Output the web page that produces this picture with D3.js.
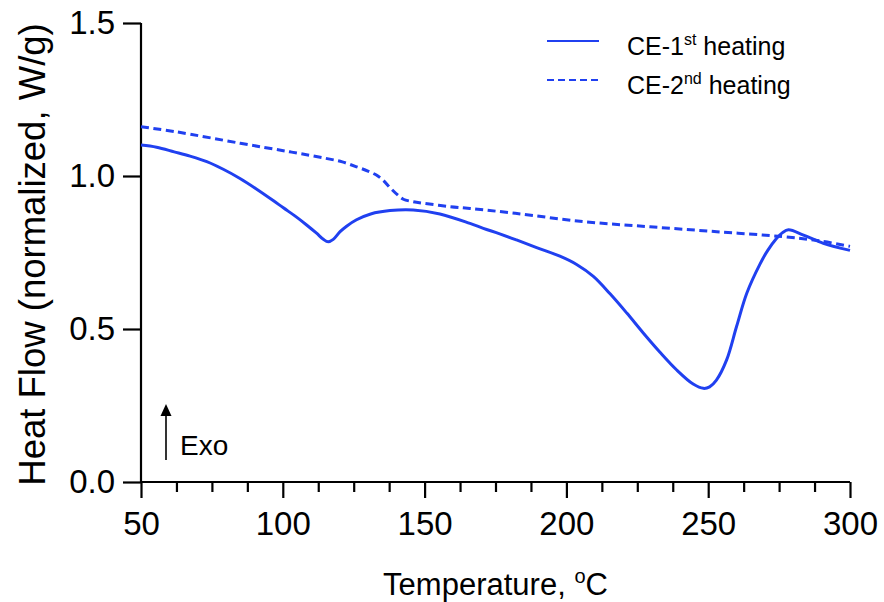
<!DOCTYPE html>
<html>
<head>
<meta charset="utf-8">
<script src="https://cdn.jsdelivr.net/npm/d3@7/dist/d3.min.js"></script>
<style>
  html, body { margin: 0; padding: 0; background: #fff; }
  svg { display: block; font-family: "Liberation Sans", Arial, Helvetica, sans-serif; }
</style>
</head>
<body>
<svg id="chart" width="884" height="602"></svg>
<script>
// ---- data ----
const temp1 = [50, 55.5, 61.7, 67.3, 73.2, 79, 84.9, 90.8, 96.6, 100.2, 104.5, 108.4, 111.9, 114.3, 116, 117.8, 120.2, 122.5, 126, 131, 137.8, 146, 155.4, 166, 170.7, 176.5, 182.4, 189.5, 197.7, 203.6, 209.5, 215.4, 221.3, 227.1, 233, 238.9, 244.7, 248.3, 250.5, 252.9, 256.5, 260, 263.6, 268.3, 271, 274, 276.2, 278.3, 283.6, 290.6, 300];
const heat1 = [1.101, 1.094, 1.079, 1.065, 1.047, 1.022, 0.992, 0.957, 0.920, 0.896, 0.868, 0.840, 0.813, 0.793, 0.785, 0.793, 0.818, 0.836, 0.857, 0.876, 0.887, 0.889, 0.876, 0.845, 0.829, 0.811, 0.791, 0.766, 0.738, 0.711, 0.672, 0.615, 0.552, 0.487, 0.424, 0.366, 0.320, 0.306, 0.311, 0.333, 0.399, 0.508, 0.617, 0.713, 0.757, 0.795, 0.815, 0.824, 0.807, 0.780, 0.757];
const temp2 = [50, 62, 85, 102.5, 115, 121, 126, 130, 133, 135.5, 138, 140.5, 142.5, 146, 149.5, 159, 166, 182, 206, 229.5, 253, 276, 290, 300];
const heat2 = [1.161, 1.145, 1.107, 1.079, 1.058, 1.046, 1.030, 1.016, 1.003, 0.985, 0.960, 0.938, 0.924, 0.916, 0.911, 0.900, 0.894, 0.878, 0.851, 0.834, 0.818, 0.802, 0.787, 0.770];
const xTicks = [50, 100, 150, 200, 250, 300];
const xMinorTicks = [62.5, 75, 87.5, 112.5, 125, 137.5, 162.5, 175, 187.5, 212.5, 225, 237.5, 262.5, 275, 287.5];
const yTicks = [0.0, 0.5, 1.0, 1.5];
const seriesNames = ["CE-1", "CE-2"];
const seriesSups = ["st", "nd"];

// ---- layout ----
const svg = d3.select("#chart");
const color = "#2040f0";
const x = d3.scaleLinear().domain([50, 300]).range([141, 850]);
const y = d3.scaleLinear().domain([0, 1.5]).range([482, 23]);

// axes
const xAxis = svg.append("g").attr("transform", `translate(0,${y(0)})`)
  .call(d3.axisBottom(x).tickValues(xTicks).tickSize(16).tickPadding(14).tickFormat(d3.format("d")));
const xMinor = svg.append("g").attr("transform", `translate(0,${y(0)})`)
  .call(d3.axisBottom(x).tickValues(xMinorTicks).tickSize(10).tickFormat(""));
xMinor.select(".domain").remove();
const yAxis = svg.append("g").attr("transform", `translate(${x(50)},0)`)
  .call(d3.axisLeft(y).tickValues(yTicks).tickSize(18).tickPadding(8).tickFormat(d3.format(".1f")));

svg.selectAll(".domain").attr("stroke", "#000").attr("stroke-width", 2.2);
svg.selectAll(".tick line").attr("stroke", "#000").attr("stroke-width", 2.2);
xAxis.selectAll(".tick text").attr("font-size", 33).attr("fill", "#000").attr("font-family", "Liberation Sans, Arial, sans-serif");
yAxis.selectAll(".tick text").attr("font-size", 33).attr("fill", "#000").attr("font-family", "Liberation Sans, Arial, sans-serif");
xAxis.select(".domain").attr("d", `M${x(50)},0H${x(300)}`);
yAxis.select(".domain").attr("d", `M0,${y(1.5)}V${y(0)}`);

// axis titles
svg.append("text")
  .attr("x", (x(50) + x(300)) / 2).attr("y", 595)
  .attr("text-anchor", "middle").attr("font-size", 31).attr("fill", "#000")
  .call(t => {
    t.append("tspan").text("Temperature, ");
    t.append("tspan").attr("font-size", 20).attr("dy", -12).text("o");
    t.append("tspan").attr("dy", 12).text("C");
  });

svg.append("text")
  .attr("transform", `translate(45,${(y(0) + y(1.5)) / 2 + 2}) rotate(-90)`)
  .attr("text-anchor", "middle").attr("font-size", 36.5).attr("fill", "#000")
  .text("Heat Flow (normalized, W/g)");

// curves
const line = d3.line().x(d => x(d[0])).y(d => y(d[1])).curve(d3.curveCatmullRom.alpha(0.5));
const data1 = temp1.map((t, i) => [t, heat1[i]]);
const data2 = temp2.map((t, i) => [t, heat2[i]]);

svg.append("path").datum(data2).attr("d", line)
  .attr("fill", "none").attr("stroke", color).attr("stroke-width", 3)
  .attr("stroke-dasharray", "8,4.5");
svg.append("path").datum(data1).attr("d", line)
  .attr("fill", "none").attr("stroke", color).attr("stroke-width", 3);

// Exo arrow
svg.append("line")
  .attr("x1", 166).attr("x2", 166).attr("y1", 460).attr("y2", 414)
  .attr("stroke", "#000").attr("stroke-width", 1.6);
svg.append("path").attr("d", "M166,404 L171.5,416 L160.5,416 Z").attr("fill", "#000");
svg.append("text").attr("x", 180).attr("y", 455)
  .attr("font-size", 28).attr("fill", "#000").text("Exo");

// legend
const legY = [41, 80];
const legend = svg.append("g");
seriesNames.forEach((name, i) => {
  legend.append("line")
    .attr("x1", 547).attr("x2", 599).attr("y1", legY[i]).attr("y2", legY[i])
    .attr("stroke", color).attr("stroke-width", 2.2)
    .attr("stroke-dasharray", i === 1 ? "7,4" : null);
  const t = legend.append("text").attr("x", 627).attr("y", legY[i] + 14)
    .attr("font-size", 25).attr("fill", "#000");
  t.append("tspan").text(name);
  t.append("tspan").attr("font-size", 16).attr("dy", -10).text(seriesSups[i]);
  t.append("tspan").attr("dy", 10).text(" heating");
});
</script>
</body>
</html>
